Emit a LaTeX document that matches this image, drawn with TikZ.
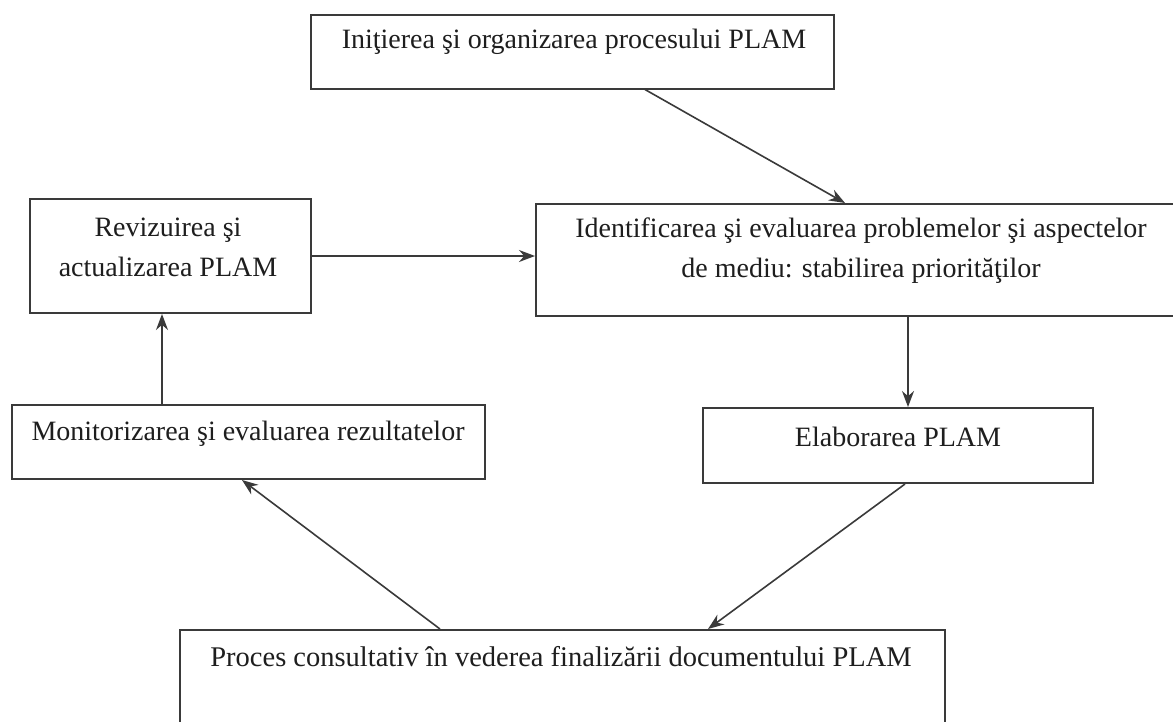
\documentclass[tikz,border=0pt]{standalone}
\usepackage{fontspec}
\setmainfont{Liberation Serif}
\usetikzlibrary{arrows.meta}
\definecolor{edge}{HTML}{3A3A3A}
\definecolor{ink}{HTML}{1E1E1E}
\begin{document}
\begin{tikzpicture}[x=1pt,y=-1pt,
  box/.style={draw=edge,line width=2pt,rectangle,inner sep=0pt},
  txt/.style={text=ink,font=\fontsize{28}{40}\selectfont,align=center,inner sep=0pt},
  arr/.style={draw=edge,line width=1.6pt,-{Stealth[length=16pt,width=12pt]}}]
\useasboundingbox[fill=white] (0,0) rectangle (1173,721);
\clip (0,0) rectangle (1173,721);
% boxes
\node[box,minimum width=523,minimum height=74] (top) at (572.5,51.5) {};
\node[box,minimum width=281,minimum height=114] (rev) at (170.5,256) {};
\node[box,minimum width=650,minimum height=112] (ident) at (861,260) {};
\node[box,minimum width=473,minimum height=74] (mon) at (248.5,442) {};
\node[box,minimum width=390,minimum height=75] (elab) at (898,445.5) {};
\node[box,minimum width=765,minimum height=130] (cons) at (562.5,695) {};
% texts
\node[txt] (ttop) at (574,42) {Iniţierea şi organizarea procesului PLAM};
\node[txt] (trev) at (168,247) {Revizuirea şi\\actualizarea PLAM};
\node[txt] (tident) at (861,251) {Identificarea şi evaluarea problemelor şi aspectelor\\de mediu: stabilirea priorităţilor};
\node[txt] (tmon) at (248,434) {Monitorizarea şi evaluarea rezultatelor};
\node[txt] (telab) at (898,437) {Elaborarea PLAM};
\node[txt,font=\fontsize{28.5}{40}\selectfont] (tcons) at (561,657) {Proces consultativ în vederea finalizării documentului PLAM};
% connectors
\draw[arr] ([xshift=72.5]top.south) -- ([xshift=-16]ident.north);
\draw[arr] (rev.east) -- (rev.east -| ident.west);
\draw[arr] ([xshift=47]ident.south) -- ([xshift=10]elab.north);
\draw[arr] ([xshift=7]elab.south) -- ([xshift=145.5]cons.north);
\draw[arr] ([xshift=-122.5]cons.north) -- ([xshift=-6.5]mon.south);
\draw[arr] ([xshift=-86.5]mon.north) -- ([xshift=-8.5]rev.south);
\end{tikzpicture}
\end{document}
